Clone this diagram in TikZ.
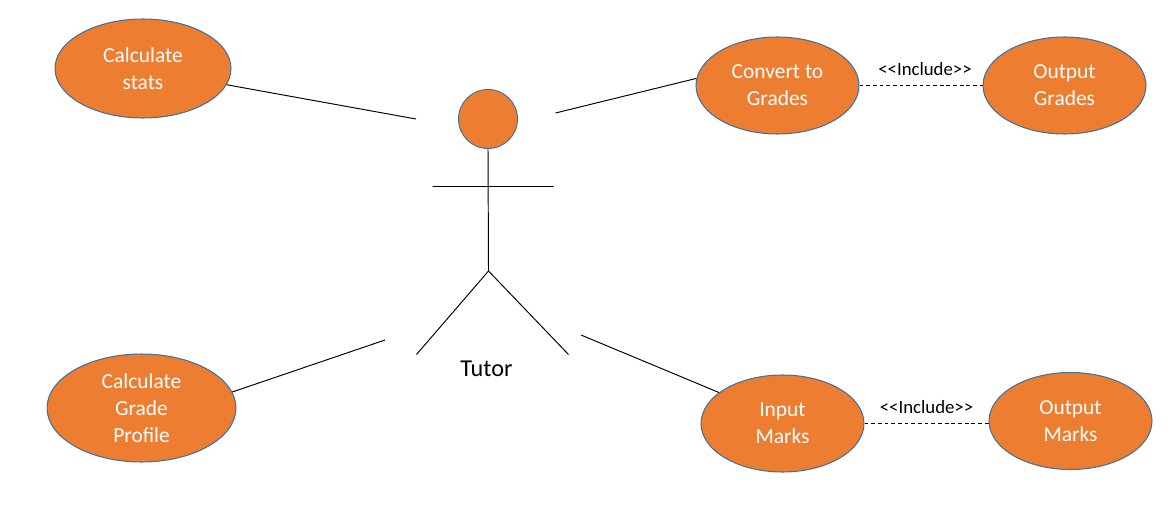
\documentclass[tikz,border=0pt]{standalone}
\usepackage{fontspec}
\setmainfont{Carlito}
\definecolor{casefill}{HTML}{ED7D31}
\definecolor{caseline}{HTML}{41719C}
\tikzset{
	usecase/.style={ellipse,draw=caseline,fill=casefill,text=white,inner sep=0pt,align=center,line width=0.6pt,font=\fontsize{12.2}{15.3}\selectfont},
	smallcase/.style={usecase,minimum width=3.26cm,minimum height=1.94cm},
	limb/.style={line width=0.55pt},
	link/.style={line width=0.55pt,dashed,dash pattern=on 2.2pt off 1.6pt},
	stereo/.style={above,midway,font=\fontsize{10.7}{12}\selectfont,inner sep=0pt,yshift=1.8mm}
}
\usetikzlibrary{shapes.geometric}
\begin{document}
\begin{tikzpicture}[x=0.02cm,y=-0.02cm,line width=0.55pt]
		\useasboundingbox (0,0) rectangle (1173,517);
		\node[usecase,minimum width=3.52cm,minimum height=1.98cm] (stats) at (143,68.5) {Calculate\\stats};
		\node[usecase,minimum width=3.78cm,minimum height=2.16cm] (profile) at (141.5,408) {Calculate\\Grade\\Profile};
		\node[smallcase] (convert) at (777.5,85.5) {Convert to\\Grades};
		\node[smallcase] (outgrades) at (1064.5,85.5) {Output\\Grades};
		\node[smallcase] (input) at (782.5,423.5) {Input\\Marks};
		\node[smallcase] (outmarks) at (1070.5,421) {Output\\Marks};
		\node[circle,draw=caseline,fill=casefill,inner sep=0pt,minimum size=1.18cm] (head) at (488,119) {};
		\node[font=\fontsize{13.8}{15}\selectfont,inner sep=0pt] (tutor) at (486.5,368.5) {Tutor};
		\path
		(432.5,186.5) coordinate (L)
		(553.5,186.5) coordinate (R)
		(488.5,271) coordinate (H)
		(416.5,354.5) coordinate (F)
		(568.5,354.5) coordinate (G)
		(416,119) coordinate (A)
		(555.5,113) coordinate (B)
		(385,340) coordinate (C)
		(581,335) coordinate (D)
		;
		\draw[limb]
		(head.south)--(H)
		(L)--(R)
		(F)--(H)--(G);
		\draw
		(stats.-11.4)--(A)
		(convert.175.4)--(B)
		(profile.10)--(C)
		(input.154.7)--(D);
		\draw[link] (convert)--(outgrades) node[stereo,xshift=0.8mm] (incgrades) {{<}{<}Include{>}{>}};
		\draw[link] (input.east)--(outmarks.west|-input.east) node[stereo] (incmarks) {{<}{<}Include{>}{>}};
\end{tikzpicture}
\end{document}
